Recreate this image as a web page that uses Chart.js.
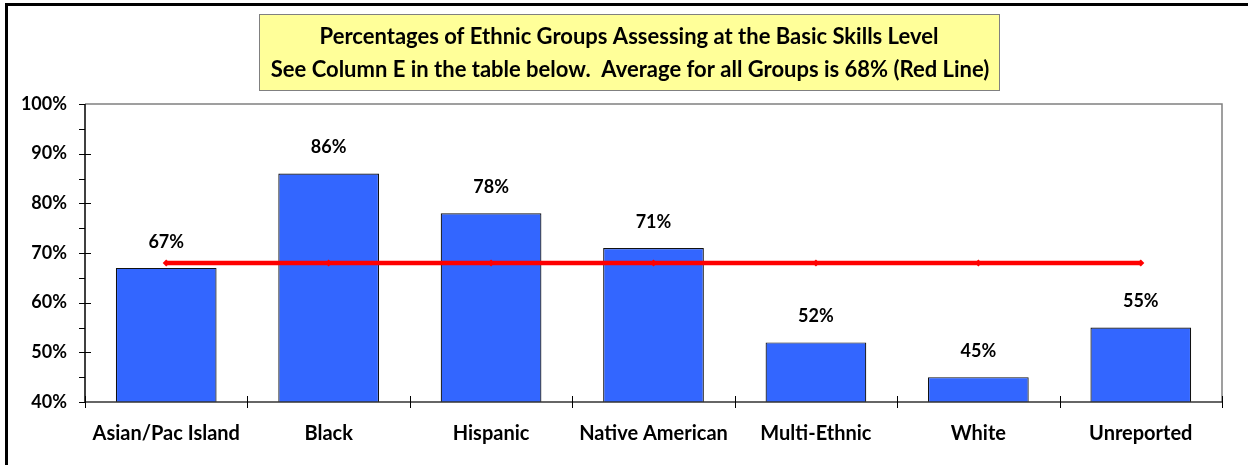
<!DOCTYPE html>
<html><head><meta charset="utf-8">
<script src="https://cdn.jsdelivr.net/npm/chart.js@4"></script>
<style>html,body{margin:0;padding:0;background:#fff;overflow:hidden}#wrap{width:1248px;height:465px;position:relative}</style>
</head><body><div id="wrap"><canvas id="c" width="1248" height="465"></canvas></div>
<script>
const categories = ["Asian/Pac Island","Black","Hispanic","Native American","Multi-Ethnic","White","Unreported"];
const percentValues = [67,86,78,71,52,45,55];
const averageValues = [68,68,68,68,68,68,68];
const yTicks = [40,50,60,70,80,90,100];
const titleLines = ["Percentages of Ethnic Groups Assessing at the Basic Skills Level","See Column E in the table below.  Average for all Groups is 68% (Red Line)"];

const FONT = "Lato, 'Open Sans', sans-serif";

const decor = {
  id:'decor',
  beforeDraw(chart){
    const ctx = chart.ctx, a = chart.chartArea;
    ctx.save();
    ctx.fillStyle='#fff'; ctx.fillRect(0,0,chart.width,chart.height);
    ctx.strokeStyle='#000'; ctx.lineWidth=3;
    ctx.beginPath(); ctx.moveTo(6.5,chart.height); ctx.lineTo(6.5,4.5); ctx.lineTo(chart.width,4.5); ctx.stroke();
    ctx.fillStyle='#FFFF99'; ctx.fillRect(259,14,740,76);
    ctx.strokeStyle='#808080'; ctx.lineWidth=1; ctx.strokeRect(259.5,14.5,740,76);
    ctx.fillStyle='#000'; ctx.font='bold 22px '+FONT; ctx.textAlign='center'; ctx.textBaseline='middle';
    ctx.fillText(titleLines[0],629,37); ctx.fillText(titleLines[1],630,70);
    ctx.strokeStyle='#808080'; ctx.lineWidth=1.5;
    ctx.beginPath(); ctx.moveTo(a.left,a.top); ctx.lineTo(a.right,a.top); ctx.lineTo(a.right,a.bottom); ctx.stroke();
    ctx.restore();
  },
  afterDatasetsDraw(chart){
    const ctx = chart.ctx, a = chart.chartArea, y = chart.scales.y;
    ctx.save();
    ctx.strokeStyle='#000'; ctx.lineWidth=1.5;
    ctx.beginPath(); ctx.moveTo(a.left,a.top); ctx.lineTo(a.left,a.bottom+1); ctx.stroke();
    ctx.strokeStyle='#333';
    ctx.beginPath(); ctx.moveTo(a.left,a.bottom); ctx.lineTo(a.right,a.bottom); ctx.stroke();
    ctx.lineWidth=1; ctx.strokeStyle='#000';
    for(let v=40; v<=100; v+=5){
      const py = Math.round(y.getPixelForValue(v))+0.5;
      ctx.beginPath();
      if(v%10===0){ ctx.moveTo(a.left-6,py); ctx.lineTo(v===100||v===40?a.left:a.left+6,py); }
      else { ctx.moveTo(a.left-6,py); ctx.lineTo(a.left,py); }
      ctx.stroke();
    }
    const n = categories.length, w = (a.right-a.left)/n;
    for(let i=0;i<=n;i++){
      const px = Math.round(a.left+i*w)+0.5;
      ctx.beginPath(); ctx.moveTo(px,a.bottom-6); ctx.lineTo(px,a.bottom+6); ctx.stroke();
    }
    ctx.fillStyle='#000'; ctx.font='bold 18px '+FONT; ctx.textAlign='center'; ctx.textBaseline='middle';
    const meta = chart.getDatasetMeta(1);
    meta.data.forEach((b,i)=>{ ctx.fillText(percentValues[i]+'%', b.x, b.y-26); });
    ctx.restore();
  }
};

new Chart(document.getElementById('c'),{
  data:{
    labels:categories,
    datasets:[
      {type:'line',data:averageValues,borderColor:'#FF0000',backgroundColor:'#FF0000',borderWidth:4.5,
       pointStyle:'rectRot',pointRadius:3.5,pointHoverRadius:3.5,pointBorderWidth:0,order:0},
      {type:'bar',data:percentValues,backgroundColor:'#3366FF',borderColor:'#111',borderWidth:1.2,
       barPercentage:0.62,categoryPercentage:1,order:1}
    ]
  },
  options:{
    responsive:false, animation:false, devicePixelRatio:1,
    layout:{padding:{top:104,right:26,left:0,bottom:0}},
    plugins:{legend:{display:false},tooltip:{enabled:false}},
    scales:{
      x:{grid:{display:false},border:{display:false},
         ticks:{color:'#000',font:{family:FONT,size:20,weight:'bold'},padding:12,maxRotation:0},
         afterFit(s){s.height=63;}},
      y:{min:40,max:100,grid:{display:false},border:{display:false},
         afterBuildTicks(s){s.ticks=yTicks.map(v=>({value:v}));},
         ticks:{color:'#000',font:{family:FONT,size:18,weight:'bold'},padding:10,callback:v=>v+'%'},
         afterFit(s){s.width=85;}}
    }
  },
  plugins:[decor]
});
</script>
</body></html>
